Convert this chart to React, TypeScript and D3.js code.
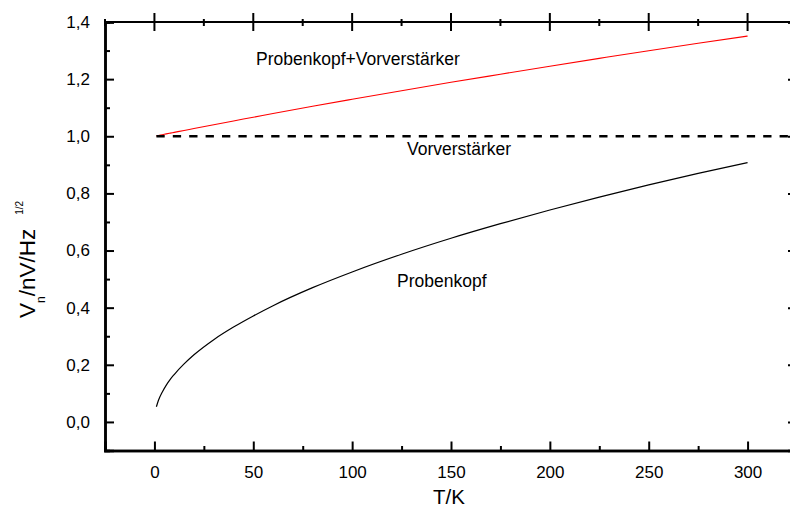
import * as d3 from "d3";
import { useEffect, useRef } from "react";

// Temperatur in K
const temps = [1, 2, 4, 6, 8, 10, 15, 20, 30, 40, 50, 60, 80, 100, 125, 150, 175, 200, 225, 250, 275, 300];
// Rauschen Probenkopf
const probe = [0.053, 0.075, 0.105, 0.129, 0.149, 0.166, 0.203, 0.235, 0.288, 0.332, 0.371, 0.407, 0.47, 0.525, 0.587, 0.643, 0.694, 0.742, 0.787, 0.83, 0.87, 0.908];
// Probenkopf + Vorverstaerker
const combined = [1.0014, 1.0028, 1.0055, 1.0083, 1.011, 1.0137, 1.0204, 1.0272, 1.0406, 1.0537, 1.0666, 1.0797, 1.1049, 1.1294, 1.1596, 1.1889, 1.2172, 1.2452, 1.2726, 1.2996, 1.3255, 1.3507];
// Vorverstaerker (konstant)
const preTemps = [1, 325];
const preAmp = [1.0, 1.0];

const xMajor = [0, 50, 100, 150, 200, 250, 300];
const xMinor = [-25, 25, 75, 125, 175, 225, 275, 325];
const yMajor = [0, 0.2, 0.4, 0.6, 0.8, 1.0, 1.2, 1.4];
const yMinor = [-0.1, 0.1, 0.3, 0.5, 0.7, 0.9, 1.1, 1.3];

const width = 790;
const height = 510;
const margin = { top: 22, bottom: 59.5, left: 105, right: -7 };
const font = "'Liberation Sans', Arial, sans-serif";

export default function App() {
  const svgRef = useRef();

  useEffect(() => {
    const svg = d3.select(svgRef.current);
    svg.selectAll("*").remove();

    const x = d3.scaleLinear().domain([-25, 325]).range([margin.left, width - margin.right]);
    const y = d3.scaleLinear().domain([-0.1, 1.4]).range([height - margin.bottom, margin.top]);
    const fmt = (d) => d3.format(".1f")(d).replace(".", ",");

    const line = d3
      .line()
      .x((d) => x(d[0]))
      .y((d) => y(d[1]))
      .curve(d3.curveMonotoneX);

    // curves
    svg
      .append("path")
      .datum(temps.map((t, i) => [t, probe[i]]))
      .attr("d", line)
      .attr("fill", "none")
      .attr("stroke", "black")
      .attr("stroke-width", 1.2);

    svg
      .append("path")
      .datum(temps.map((t, i) => [t, combined[i]]))
      .attr("d", line)
      .attr("fill", "none")
      .attr("stroke", "red")
      .attr("stroke-width", 1.1);

    svg
      .append("path")
      .datum(preTemps.map((t, i) => [t, preAmp[i]]))
      .attr("d", line)
      .attr("fill", "none")
      .attr("stroke", "black")
      .attr("stroke-width", 2.6)
      .attr("stroke-dasharray", "8.3,8.1");

    // axes
    const bottom = d3.axisBottom(x).tickValues(xMajor).tickSize(-9).tickPadding(15).tickFormat(d3.format("d"));
    const bottomMinor = d3.axisBottom(x).tickValues(xMinor).tickSize(-4.5).tickFormat("");
    const left = d3.axisLeft(y).tickValues(yMajor).tickSize(-9).tickPadding(15).tickFormat(fmt);
    const leftMinor = d3.axisLeft(y).tickValues(yMinor).tickSize(-5).tickFormat("");
    const right = d3.axisRight(y).tickValues(yMajor).tickSize(-9).tickFormat("");
    const rightMinor = d3.axisRight(y).tickValues(yMinor).tickSize(-5).tickFormat("");

    const gB = svg.append("g").attr("transform", `translate(0,${y(-0.1)})`);
    gB.call(bottom);
    gB.append("g").call(bottomMinor);
    const gL = svg.append("g").attr("transform", `translate(${x(-25)},0)`);
    gL.call(left);
    gL.append("g").call(leftMinor);
    const gR = svg.append("g").attr("transform", `translate(${x(325)},0)`);
    gR.call(right);
    gR.append("g").call(rightMinor);

    // top axis, ticks crossing the line
    const gT = svg.append("g");
    gT.append("line")
      .attr("x1", x(-25))
      .attr("x2", x(325))
      .attr("y1", y(1.4))
      .attr("y2", y(1.4));
    gT.selectAll(".maj")
      .data(xMajor)
      .join("line")
      .attr("x1", (d) => x(d))
      .attr("x2", (d) => x(d))
      .attr("y1", y(1.4) - 9)
      .attr("y2", y(1.4) + 9);
    gT.selectAll(".min")
      .data(xMinor)
      .join("line")
      .attr("class", "min")
      .attr("x1", (d) => x(d))
      .attr("x2", (d) => x(d))
      .attr("y1", y(1.4) - 3)
      .attr("y2", y(1.4) + 4);
    gT.selectAll("line").attr("stroke", "black").attr("stroke-width", 2);

    svg.selectAll(".domain").attr("stroke", "black").attr("stroke-width", 2.5);
    svg.selectAll(".tick line").attr("stroke", "black").attr("stroke-width", 2);
    svg.selectAll(".tick text").attr("font-family", font).attr("font-size", 17).attr("fill", "black");

    // curve labels
    const labels = [
      { t: "Probenkopf+Vorverstärker", x: 256, y: 65 },
      { t: "Vorverstärker", x: 407, y: 155 },
      { t: "Probenkopf", x: 397, y: 287 },
    ];
    svg
      .selectAll(".lbl")
      .data(labels)
      .join("text")
      .attr("x", (d) => d.x)
      .attr("y", (d) => d.y)
      .attr("font-family", font)
      .attr("font-size", 17.5)
      .text((d) => d.t);

    // axis titles
    svg
      .append("text")
      .attr("x", 449)
      .attr("y", 504)
      .attr("text-anchor", "middle")
      .attr("font-family", font)
      .attr("font-size", 20.5)
      .text("T/K");

    const yt = svg
      .append("text")
      .attr("transform", "translate(35,318) rotate(-90)")
      .attr("font-family", font)
      .attr("font-size", 22.5);
    yt.append("tspan").text("V");
    yt.append("tspan").attr("dy", 10).attr("font-size", 12).text("n");
    yt.append("tspan").attr("dy", -10).text("/nV/Hz");
    yt.append("tspan").attr("dx", 14).attr("dy", -12).attr("font-size", 10).text("1/2");
  }, []);

  return (
    <svg
      ref={svgRef}
      width={width}
      height={height}
      style={{ position: "absolute", left: 0, top: 0, background: "white" }}
    />
  );
}
